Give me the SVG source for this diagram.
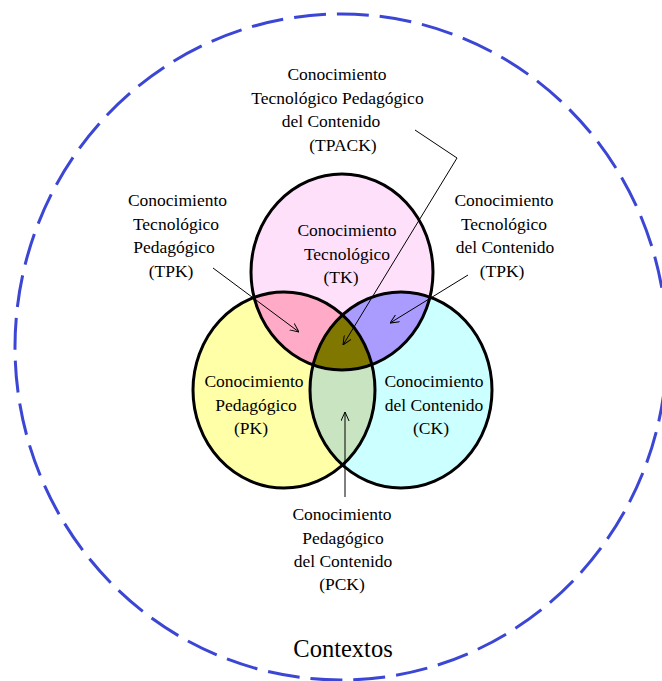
<svg xmlns="http://www.w3.org/2000/svg" width="662" height="681" viewBox="0 0 662 681">
  <style>
    text { font-family: "Liberation Serif", "Times New Roman", serif; font-size: 17.5px; fill: #000; text-anchor: middle; }
    .ring { fill: none; stroke: #000; stroke-width: 3; }
    .lead { fill: none; stroke: #000; stroke-width: 1; }
    .ctx { fill: none; stroke: #3c46d4; stroke-width: 3; stroke-dasharray: 32 11; }
  </style>
  <defs>
    <ellipse id="eTK" cx="342" cy="272" rx="91" ry="98"/>
    <ellipse id="ePK" cx="284" cy="390" rx="91" ry="98"/>
    <ellipse id="eCK" cx="401" cy="390" rx="91" ry="98"/>
    <clipPath id="clipPK"><use href="#ePK"/></clipPath>
    <clipPath id="clipCK"><use href="#eCK"/></clipPath>
    <marker id="open" viewBox="0 0 10 10" refX="10" refY="5" markerWidth="9" markerHeight="9" markerUnits="userSpaceOnUse" orient="auto">
      <path d="M0,0.5 L10,5 L0,9.5" fill="none" stroke="#000" stroke-width="1.1"/>
    </marker>
  </defs>

  <rect width="662" height="681" fill="#fff"/>

  <!-- context boundary -->
  <g id="contextos">
    <ellipse class="ctx" cx="341" cy="347" rx="326" ry="333"/>
    <text x="343" y="657" style="font-size:24.5px">Contextos</text>
  </g>

  <!-- base circles -->
  <g id="tk">
    <use href="#eTK" fill="#ffe0fb"/>
  </g>
  <g id="pk">
    <use href="#ePK" fill="#ffffa8"/>
  </g>
  <g id="ck">
    <use href="#eCK" fill="#ccffff"/>
  </g>

  <!-- pairwise and triple overlaps -->
  <g id="tpk-region">
    <use href="#eTK" fill="#ffaac6" clip-path="url(#clipPK)"/>
  </g>
  <g id="tck-region">
    <use href="#eTK" fill="#aa9bff" clip-path="url(#clipCK)"/>
  </g>
  <g id="pck-region">
    <use href="#ePK" fill="#c8e4c0" clip-path="url(#clipCK)"/>
  </g>
  <g id="tpack-region">
    <g clip-path="url(#clipCK)">
      <use href="#eTK" fill="#7f7700" clip-path="url(#clipPK)"/>
    </g>
  </g>

  <!-- outlines -->
  <g id="outlines">
    <use href="#eTK" class="ring"/>
    <use href="#ePK" class="ring"/>
    <use href="#eCK" class="ring"/>
  </g>

  <!-- labels inside circles -->
  <g id="tk-label">
    <text x="347" y="236">Conocimiento</text>
    <text x="347" y="260">Tecnológico</text>
    <text x="341" y="283">(TK)</text>
  </g>
  <g id="pk-label">
    <text x="254" y="387">Conocimiento</text>
    <text x="256" y="411">Pedagógico</text>
    <text x="251" y="434">(PK)</text>
  </g>
  <g id="ck-label">
    <text x="434" y="387">Conocimiento</text>
    <text x="434" y="411">del Contenido</text>
    <text x="431" y="434">(CK)</text>
  </g>

  <!-- outside labels -->
  <g id="tpack-label">
    <text x="337" y="80">Conocimiento</text>
    <text x="337.5" y="104">Tecnológico Pedagógico</text>
    <text x="331" y="127">del Contenido</text>
    <text x="343" y="151">(TPACK)</text>
  </g>
  <g id="tpk-label">
    <text x="177.5" y="206">Conocimiento</text>
    <text x="176" y="230">Tecnológico</text>
    <text x="174" y="253">Pedagógico</text>
    <text x="171" y="277">(TPK)</text>
  </g>
  <g id="tck-label">
    <text x="504" y="206">Conocimiento</text>
    <text x="504" y="230">Tecnológico</text>
    <text x="505" y="253">del Contenido</text>
    <text x="502" y="277">(TPK)</text>
  </g>
  <g id="pck-label">
    <text x="342" y="520">Conocimiento</text>
    <text x="343" y="544">Pedagógico</text>
    <text x="343" y="567">del Contenido</text>
    <text x="342" y="590">(PCK)</text>
  </g>

  <!-- leader arrows -->
  <g id="connectors">
    <polyline class="lead" points="415,130 457,158 343,345" marker-end="url(#open)"/>
    <line class="lead" x1="213" y1="268" x2="299" y2="332" marker-end="url(#open)"/>
    <line class="lead" x1="468" y1="275" x2="390" y2="323" marker-end="url(#open)"/>
    <line class="lead" x1="345" y1="497" x2="345" y2="412" marker-end="url(#open)"/>
  </g>
</svg>
